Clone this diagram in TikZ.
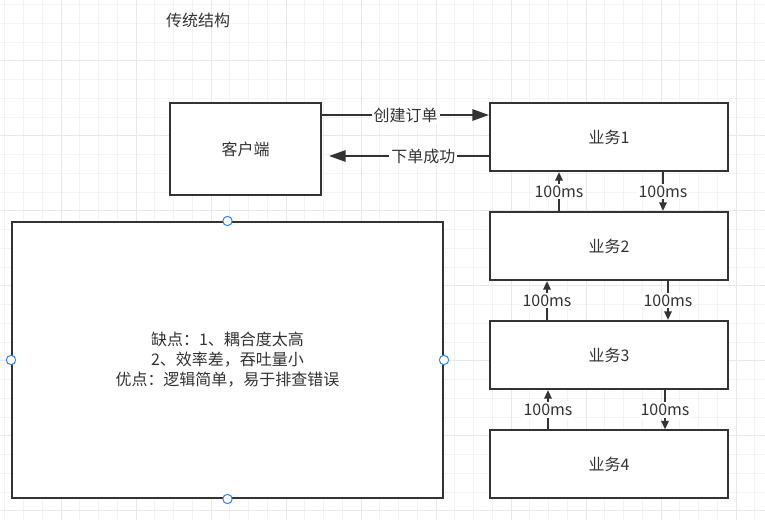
\documentclass[tikz,border=0pt]{standalone}
\usepackage{fontspec}
\setmainfont{Noto Sans CJK SC}
\usetikzlibrary{arrows.meta}
\definecolor{ink}{HTML}{333333}
\definecolor{gridminor}{HTML}{F3F3F3}
\definecolor{gridmajor}{HTML}{E8E8E8}
\definecolor{handleblue}{HTML}{2B86F0}

\begin{document}
\begin{tikzpicture}[x=0.75pt,y=-0.75pt,
	txt/.style={text=ink,font=\fontsize{12pt}{15pt}\selectfont},
	box/.style={txt,draw=ink,line width=1.5pt,fill=white,align=center},
	bizbox/.style={box,minimum width=178.5pt,minimum height=51pt},
	flow/.style={draw=ink,line width=1.5pt},
	bigtip/.style={-{Triangle[length=12.5pt,width=8.5pt]}},
	smalltip/.style={-{Triangle[length=6.5pt,width=5.5pt]}},
	lbl/.style={txt,fill=white,inner sep=1.5pt},
	handle/.style={circle,draw=handleblue,fill=white,line width=0.75pt,inner sep=0pt,minimum size=7pt}]
	
	\useasboundingbox (0,0) rectangle (765,520);
	\fill[white] (0,0) rectangle (765,520);
	
	% background grid
	\foreach \k in {0,...,40}
		\draw[gridminor,line width=0.75pt] (4.75+18.75*\k,0) -- (4.75+18.75*\k,520);
	\foreach \k in {0,...,27}
		\draw[gridminor,line width=0.75pt] (0,4.75+18.75*\k) -- (765,4.75+18.75*\k);
	\foreach \k in {3,7,...,39}
		\draw[gridmajor,line width=0.75pt] (4.75+18.75*\k,0) -- (4.75+18.75*\k,520);
	\foreach \k in {3,7,...,27}
		\draw[gridmajor,line width=0.75pt] (0,4.75+18.75*\k) -- (765,4.75+18.75*\k);
	
	\node[txt] (title) at (198,20) {传统结构};
	
	\node[box,minimum width=113.25pt,minimum height=69pt] (client) at (245.5,149) {客户端};
	\node[bizbox] (biz1) at (609,137) {业务1};
	\node[bizbox] (biz2) at (609,246) {业务2};
	\node[bizbox] (biz3) at (609,355) {业务3};
	\node[bizbox] (biz4) at (609,464.5) {业务4};
	
	\node[box,minimum width=323.25pt,minimum height=207pt] (note) at (227.5,360)
		{缺点：1、耦合度太高\\2、效率差，吞吐量小\\优点：逻辑简单，易于排查错误};
	
	% selection handles
	\node[handle] (hn) at (note.north) {};
	\node[handle] (hs) at (note.south) {};
	\node[handle] (hw) at (note.west) {};
	\node[handle] (he) at (note.east) {};
	
	\draw[flow,bigtip] ([yshift=-9.75pt]client.north east) -- ([yshift=-9.75pt]biz1.north west)
		node[lbl,pos=0.5]{创建订单};
	\draw[flow,bigtip] ([yshift=12pt]biz1.south west) -- ++(-160,0)
		node[lbl,pos=0.41]{下单成功};
	
	\draw[flow,smalltip] ([xshift=-37.5pt]biz2.north) -- ([xshift=-37.5pt]biz1.south) node[lbl,midway]{100ms};
	\draw[flow,smalltip] ([xshift=40.5pt]biz1.south) -- ([xshift=40.5pt]biz2.north) node[lbl,midway]{100ms};
	\draw[flow,smalltip] ([xshift=-46.5pt]biz3.north) -- ([xshift=-46.5pt]biz2.south) node[lbl,midway]{100ms};
	\draw[flow,smalltip] ([xshift=44.25pt]biz2.south) -- ([xshift=44.25pt]biz3.north) node[lbl,midway]{100ms};
	\draw[flow,smalltip] ([xshift=-45.75pt]biz4.north) -- ([xshift=-45.75pt]biz3.south) node[lbl,midway]{100ms};
	\draw[flow,smalltip] ([xshift=42pt]biz3.south) -- ([xshift=42pt]biz4.north) node[lbl,midway]{100ms};
\end{tikzpicture}
\end{document}
